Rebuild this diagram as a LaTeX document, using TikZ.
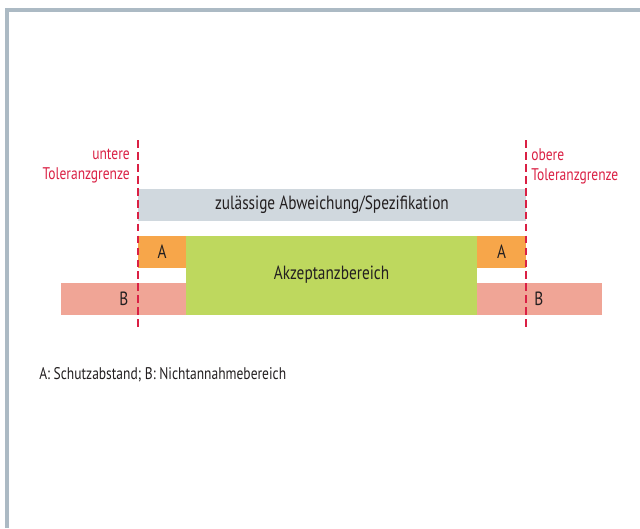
\documentclass[tikz,border=0pt]{standalone}
\usepackage{fontspec}
\setmainfont{PT Sans}[FakeStretch=0.8]
\usepackage{tikz}
\usetikzlibrary{positioning}
\definecolor{frame}{RGB}{172, 186, 196}
\definecolor{spec}{RGB}{208, 216, 222}
\definecolor{guard}{RGB}{247, 166, 74}
\definecolor{accept}{RGB}{190, 216, 94}
\definecolor{reject}{RGB}{240, 165, 150}
\definecolor{limit}{RGB}{218, 32, 68}
\definecolor{ink}{RGB}{35, 31, 32}

\begin{document}
\begin{tikzpicture}[x=0.025cm, y=-0.025cm,
    every node/.style={font=\fontsize{12}{14.3}\selectfont, text=ink, inner sep=0},
    bartext/.style={font=\fontsize{13.6}{16}\selectfont},
    grenze/.style={limit, line width=1pt, dash pattern=on 5.5pt off 3pt},
    limittext/.style={text=limit, align=#1}]
  \useasboundingbox (0, 0) rectangle (640, 528);

  % frame
  \draw[frame, line width=2.4pt] (7, 528) -- (7, 10) -- (640, 10);

  % bars
  \fill[spec] (138, 189) rectangle (526, 221);
  \fill[accept] (186, 236) rectangle (477, 315);
  \foreach \xa/\xb in {138/186, 477/526} {
    \fill[guard] (\xa, 236) rectangle (\xb, 268);
  }
  \foreach \xa/\xb in {61/186, 477/602} {
    \fill[reject] (\xa, 283) rectangle (\xb, 315);
  }

  \node[bartext] (spezifikation) at (332, 205) {zulässige Abweichung/Spezifikation};
  \node[bartext] (akzeptanz) at (331.5, 275) {Akzeptanzbereich};
  \node[bartext] (schutzL) at (162, 252) {A};
  \node[bartext] (schutzR) at (501.5, 252) {A};
  \node[bartext, anchor=east] (nichtL) at (128.5, 299) {B};
  \node[bartext, anchor=west] (nichtR) at (534, 299) {B};

  % tolerance limits
  \coordinate (untenO) at (138, 140);
  \coordinate (untenU) at (138, 330);
  \coordinate (obenO) at (526, 140);
  \coordinate (obenU) at (526, 330);
  \draw[grenze] (untenO) -- (untenU);
  \draw[grenze] (obenO) -- (obenU);

  \node[limittext=right, anchor=north east] (untere) at (130, 148.5) {untere\\Toleranzgrenze};
  \node[limittext=left, anchor=north west] (obere) at (531, 148.5) {obere\\Toleranzgrenze};

  \node[anchor=west] (legende) at (39, 375) {A: Schutzabstand; B: Nichtannahmebereich};

\end{tikzpicture}
\end{document}
